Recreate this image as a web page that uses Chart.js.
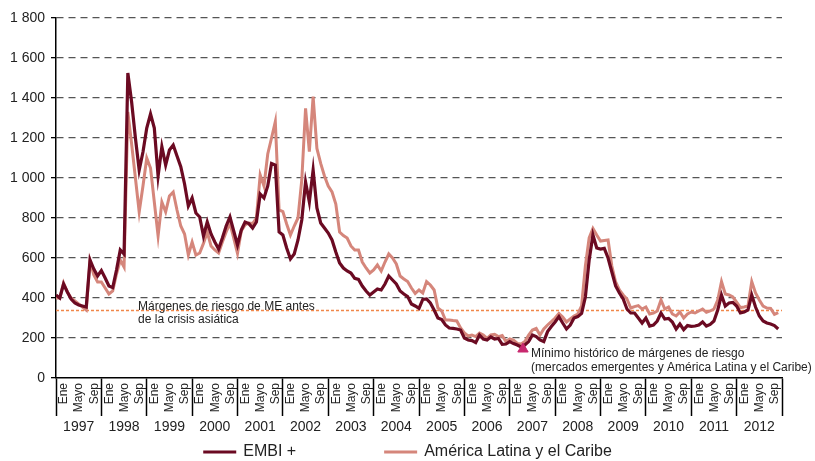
<!DOCTYPE html>
<html>
<head>
  <meta charset="utf-8">
  <title>Márgenes de riesgo: EMBI + y América Latina y el Caribe</title>
  <script src="https://cdn.jsdelivr.net/npm/chart.js@4"></script>
  <style>
    html, body { margin: 0; padding: 0; background: #fff; }
  </style>
</head>
<body>
  <canvas id="spreadChart" width="815" height="461"></canvas>

  <script>
    // datos mensuales, ene 1997 - dic 2012 (puntos básicos)
    const years = ["1997", "1998", "1999", "2000", "2001", "2002", "2003", "2004",
                   "2005", "2006", "2007", "2008", "2009", "2010", "2011", "2012"];
    const monthLabels = ["Ene", "Mayo", "Sep"];

    const embi = [
      415, 400, 470, 430, 395, 375, 365, 360, 355, 590, 545, 510,
      537, 500, 460, 452, 540, 640, 620, 1525, 1380, 1200, 1040, 1130,
      1250, 1320, 1250, 1010, 1157, 1065, 1140, 1165, 1110, 1057, 970, 860,
      900, 825, 805, 710, 780, 720, 680, 645, 700, 760, 805, 735,
      665, 740, 780, 772, 750, 780, 920, 900, 960, 1073, 1065, 730,
      715, 650, 595, 620, 690, 790, 980, 880, 1040, 850, 775, 750,
      725, 690, 630, 575, 550, 535, 525, 498, 493, 460, 435, 415,
      430, 445, 440, 470, 510, 490, 470, 435, 420, 407, 370, 360,
      348, 393, 395, 375, 340, 300, 292, 265, 250, 248, 245, 240,
      200, 190, 187, 177, 215, 195, 190, 205, 195, 198, 168, 170,
      182, 172, 165, 155, 165, 182, 215, 207, 190, 182, 232, 257,
      280, 307, 275, 245, 265, 300, 307, 323, 405, 590, 715, 650,
      645, 648, 600, 530, 460, 425, 395, 345, 325, 325, 300, 275,
      300, 260, 265, 285, 325, 295, 298, 280, 245, 270, 242, 262,
      258, 260, 265, 280, 260, 268, 285, 340, 415, 360, 375, 378,
      360, 325, 330, 340, 415, 355, 310, 285, 275, 270, 262, 245
    ];

    const alc = [
      400, 400, 475, 430, 400, 385, 370, 355, 340, 585, 515, 480,
      480, 450, 420, 435, 520, 590, 555, 1330, 1170, 1000, 830, 960,
      1100, 1050, 880, 710, 880, 830, 910, 930, 840, 760, 720, 615,
      680, 615, 625, 673, 730, 660, 640, 625, 680, 730, 773, 700,
      623, 735, 765, 775, 772, 800, 1015, 960, 1120, 1200, 1282, 840,
      832, 770, 715, 760, 800, 990, 1348, 1132, 1407, 1148, 1073, 1010,
      960, 930, 870, 730, 712, 700, 660, 640, 640, 580, 550, 525,
      540, 565, 535, 580, 620, 600, 570, 510, 495, 482, 450, 423,
      440, 425, 482, 465, 440, 350, 335, 290, 290, 287, 285, 250,
      225, 210, 215, 207, 225, 215, 198, 215, 218, 207, 212, 182,
      195, 190, 173, 170, 182, 215, 240, 248, 215, 245, 265, 282,
      300, 323, 305, 280, 295, 310, 320, 360, 560, 700, 748, 715,
      685, 688, 690, 560, 480, 440, 415, 395, 350, 357, 362, 345,
      355, 320, 325, 335, 390, 345, 355, 320, 310, 330, 300, 320,
      330, 325, 335, 345, 328, 335, 345, 390, 482, 420, 415, 405,
      380, 352, 355, 360, 482, 425, 390, 360, 350, 348, 318, 327
    ];

    const asiaLevel = 337;                       // márgenes antes de la crisis asiática
    const minPoint = [{ x: 123.5, y: 145 }];     // mínimo histórico (mes, pb)

    const asiaText = ["Márgenes de riesgo de ME antes", "de la crisis asiática"];
    const minText = ["Mínimo histórico de márgenes de riesgo",
                     "(mercados emergentes y América Latina y el Caribe)"];

    const colEmbi = "#6b0a22";
    const colAlc = "#d5867b";
    const font = '"Liberation Sans", Arial, sans-serif';

    const monthTicks = [];
    years.forEach((y, k) => monthTicks.push(12 * k, 12 * k + 4, 12 * k + 8));
    monthTicks.push(12 * years.length);

    const toPoints = arr => arr.map((v, i) => ({ x: i, y: v }));

    const extras = {
      id: "extras",
      beforeDatasetsDraw(chart) {
        const { ctx, chartArea: a, scales: { y } } = chart;
        const ly = y.getPixelForValue(asiaLevel);
        ctx.save();
        ctx.strokeStyle = "#f0874a";
        ctx.lineWidth = 1.5;
        ctx.setLineDash([3, 2]);
        ctx.beginPath();
        ctx.moveTo(a.left, ly);
        ctx.lineTo(a.right, ly);
        ctx.stroke();
        ctx.restore();
      },
      afterDraw(chart) {
        const { ctx, chartArea: a, scales: { x, y } } = chart;
        ctx.save();
        ctx.fillStyle = "#222";
        ctx.textBaseline = "middle";

        // años bajo los meses
        ctx.font = "14px " + font;
        ctx.textAlign = "center";
        years.forEach((yr, k) => {
          const cx = (x.getPixelForValue(12 * k) + x.getPixelForValue(12 * k + 12)) / 2;
          ctx.fillText(yr, cx, a.bottom + 49);
        });

        // notas
        ctx.font = "12px " + font;
        ctx.textAlign = "left";
        const ly = y.getPixelForValue(asiaLevel);
        const ax = x.getPixelForValue(21.7);
        ctx.fillText(asiaText[0], ax, ly - 4);
        ctx.fillText(asiaText[1], ax, ly + 9);

        const mx = x.getPixelForValue(minPoint[0].x) + 8;
        const my = y.getPixelForValue(minPoint[0].y);
        ctx.fillText(minText[0], mx, my + 5);
        ctx.fillText(minText[1], mx, my + 19);

        // leyenda
        ctx.font = "16px " + font;
        const items = [
          { text: "EMBI +", color: colEmbi },
          { text: "América Latina y el Caribe", color: colAlc }
        ];
        const lineW = 33, gap = 7, between = 88;
        const widths = items.map(it => lineW + gap + ctx.measureText(it.text).width);
        let lx = (chart.width - (widths[0] + widths[1] + between)) / 2;
        const legY = 452;
        items.forEach((it, i) => {
          ctx.fillStyle = it.color;
          ctx.fillRect(lx, legY - 1.5, lineW, 3);
          ctx.fillStyle = "#222";
          ctx.fillText(it.text, lx + lineW + gap, legY);
          lx += widths[i] + between;
        });
        ctx.restore();
      }
    };

    new Chart(document.getElementById("spreadChart"), {
      type: "line",
      data: {
        datasets: [
          {
            label: "EMBI +",
            data: toPoints(embi),
            borderColor: colEmbi,
            backgroundColor: colEmbi,
            borderWidth: 3.2,
            pointRadius: 0,
            tension: 0
          },
          {
            label: "América Latina y el Caribe",
            data: toPoints(alc),
            borderColor: colAlc,
            backgroundColor: colAlc,
            borderWidth: 3,
            pointRadius: 0,
            tension: 0
          },
          {
            type: "scatter",
            label: "Mínimo histórico",
            data: minPoint,
            pointStyle: "triangle",
            pointRadius: 6,
            backgroundColor: "#c8286e",
            borderColor: "#c8286e",
            order: -1
          }
        ]
      },
      options: {
        responsive: false,
        animation: false,
        layout: { padding: { top: 18, right: 33, bottom: 43, left: 0 } },
        plugins: {
          legend: { display: false },
          tooltip: { enabled: false }
        },
        scales: {
          x: {
            type: "linear",
            min: 0,
            max: 192,
            afterBuildTicks: s => { s.ticks = monthTicks.map(v => ({ value: v })); },
            afterFit: s => { s.height = 40; },
            border: { display: true, color: "#000", width: 1.5 },
            grid: {
              drawOnChartArea: false,
              tickLength: 38,
              tickWidth: 1.5,
              color: c => (c.tick && c.tick.value % 12 === 0) ? "#000" : "rgba(0,0,0,0)",
              tickColor: c => (c.tick && c.tick.value % 12 === 0) ? "#000" : "rgba(0,0,0,0)"
            },
            ticks: {
              autoSkip: false,
              minRotation: 90,
              maxRotation: 90,
              labelOffset: 8,
              padding: -33,
              color: "#222",
              font: { family: font, size: 12 },
              callback: v => v >= 192 ? "" : monthLabels[(v % 12) / 4]
            }
          },
          y: {
            min: 0,
            max: 1800,
            afterFit: s => { s.width = 56; },
            border: { display: true, color: "#000", width: 1.5, dash: [7, 5] },
            grid: {
              color: c => c.tick.value === 0 ? "rgba(0,0,0,0)" : "#555",
              lineWidth: 1.3,
              tickLength: 5,
              tickColor: "#000",
              tickBorderDash: []
            },
            ticks: {
              stepSize: 200,
              padding: 6,
              color: "#222",
              font: { family: font, size: 14 },
              callback: v => v >= 1000 ? String(v).replace(/(\d)(\d{3})$/, "$1 $2") : String(v)
            }
          }
        }
      },
      plugins: [extras]
    });
  </script>
</body>
</html>
